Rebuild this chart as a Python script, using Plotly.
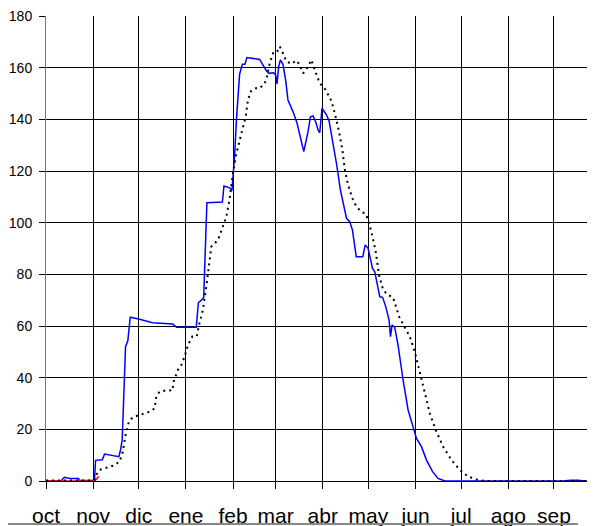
import plotly.graph_objects as go

# Month labels (season Oct -> Sep) and their start day (days since 1 Oct)
month_labels = ["oct", "nov", "dic", "ene", "feb", "mar", "abr", "may", "jun", "jul", "ago", "sep"]
month_start_day = [0, 31, 61, 92, 123, 151, 182, 212, 243, 273, 304, 334]

# Blue series (current season)
blue_day = [0, 10.0, 11.2, 12.2, 15.5, 21.4, 22.0, 30.6, 31.9, 32.6, 37.0, 38.5, 47.9, 49.0, 50.1,
            52.3, 53.8, 55.4, 61.5, 70.1, 83.3, 85.9, 98.8, 100.2, 102.1, 103.7, 105.8, 116.0,
            117.0, 120.8, 122.3, 124.1, 125.2, 126.2, 127.3, 129.1, 130.8, 132.1, 135.0, 140.5,
            142.7, 144.9, 146.6, 149.7, 151.0, 151.9, 153.0, 154.1, 155.8, 157.6, 159.1, 162.4,
            165.1, 167.3, 169.5, 172.3, 173.9, 175.6, 177.4, 178.9, 180.0, 181.5, 184.4, 186.1,
            188.4, 191.0, 193.6, 195.3, 197.6, 199.7, 201.5, 204.0, 208.3, 209.9, 211.8, 214.7,
            216.2, 219.5, 221.3, 223.4, 225.6, 226.5, 227.6, 229.3, 231.5, 234.8, 238.1, 242.0,
            243.6, 246.9, 250.2, 254.2, 257.8, 262.3, 300, 340, 345, 350, 354, 361]
blue_val = [0, 0, 1.0, 1.4, 1.0, 1.0, 0.2, 0.2, 0.5, 8.0, 8.2, 10.4, 9.4, 12, 15.9,
            52, 54.3, 63.4, 62.6, 61.3, 60.8, 59.5, 59.5, 69, 70, 71, 107.7, 108,
            114.2, 113.5, 112.4, 126.8, 139.7, 150.7, 157.4, 161.3, 161.3, 163.9, 163.6, 163.2,
            161, 158.8, 157.8, 158, 157.2, 153.7, 160.4, 163, 161.3, 155.2, 147.5, 143,
            138.5, 133.3, 127.5, 135.2, 141, 141.3, 139, 135.9, 134.8, 144.3, 141.7, 139.5,
            132, 123, 112.6, 108.1, 101.7, 100.4, 97.2, 86.8, 86.8, 91.4, 90.1, 82.3,
            81, 71.3, 71.1, 67.5, 62.3, 55.9, 60.4, 59.5, 52.6, 39.1, 27.5, 19.7,
            16.5, 13.3, 8.1, 3.6, 1.0, 0, 0, 0, 0.3, 0.3, 0, 0]

# Black dotted series (mean)
mean_day = [0, 30.6, 31.9, 33.0, 35.2, 38.5, 44.0, 48.4, 50.5, 52.3, 54.5, 57.1, 61.5, 68.1,
            71.4, 72.5, 74.7, 80.2, 83.1, 83.9, 86.7, 89.0, 91.1, 93.3, 96.2, 99.2, 100.6,
            103.2, 105.4, 107.1, 108.7, 113.1, 116.0, 118.6, 120.8, 122.9, 125.2, 127.3, 129.5,
            131.3, 132.8, 135.0, 137.9, 140.5, 143.8, 145.3, 147.1, 149.3, 151.5, 153.7, 155.8,
            158.1, 161.4, 164.7, 166.8, 169.1, 172.3, 174.5, 177.4, 180.0, 183.9, 187.7, 189.9,
            192.7, 194.9, 196.4, 198.6, 201.5, 204.1, 207.4, 210.3, 212.4, 214.7, 216.8, 219.0,
            221.7, 224.9, 228.2, 232.2, 235.9, 239.2, 242.5, 245.8, 249.1, 252.4, 256.3, 261.1,
            266.7, 272.1, 277.6, 284.2, 288.6, 361]
mean_val = [0.2, 0.2, 0.5, 2.3, 4.3, 4.9, 5.9, 7.5, 11.3, 17.8, 23, 24.7, 25.5, 26.8,
            28.1, 32.6, 34.6, 35.2, 35, 38.4, 43, 44.9, 48.1, 52.6, 55.9, 56, 60.4,
            66.2, 75.2, 84.3, 90.7, 93.3, 98.2, 102.3, 109.4, 119.1, 126.8, 132, 137.1,
            141, 147.5, 151.1, 152, 152, 153.9, 156.5, 161.7, 165.6, 165.6, 168.2, 165.6,
            162.4, 161.5, 162.8, 161, 157.8, 160.4, 163, 158, 154, 151.4, 147, 142.3,
            135.2, 128.1, 120.8, 114.6, 109.4, 106.2, 104.2, 103.4, 100, 94.6, 88.8, 79.7,
            73.9, 72, 71.1, 63.6, 59.7, 55.9, 50, 41.7, 33.3, 26.2, 19.7, 13.3,
            8.1, 4.3, 1.7, 0.4, 0, 0]

# Red series (short early segment)
red_day = [0, 31.0, 32.5, 33.5, 34.7]
red_val = [0, 0, 0.3, 0.9, 1.7]

y_ticks = list(range(0, 181, 20))

fig = go.Figure()
fig.add_trace(go.Scatter(x=blue_day, y=blue_val, mode="lines",
                         line=dict(color="#0000ff", width=1.5), hoverinfo="skip"))
fig.add_trace(go.Scatter(x=red_day, y=red_val, mode="lines",
                         line=dict(color="#ff0000", width=1.5), hoverinfo="skip"))
fig.add_trace(go.Scatter(x=mean_day, y=mean_val, mode="lines",
                         line=dict(color="#000000", width=2, dash="2px,4px"), hoverinfo="skip"))

# The page body has an 8px margin, so the figure is offset by 8px.
W, H = 587, 518
left, top, bottom_px = 38, 8, 473
plot_h = bottom_px - top
plot_w = W - left

fig.update_layout(
    width=W, height=H,
    margin=dict(l=left, r=0, t=top, b=H - bottom_px, pad=0, autoexpand=False),
    paper_bgcolor="white", plot_bgcolor="white",
    showlegend=False,
    font=dict(family="Liberation Sans, Arial, sans-serif", color="black"),
    xaxis=dict(
        range=[0, 361], tickmode="array", tickvals=month_start_day, ticktext=month_labels,
        showgrid=True, gridcolor="#000000", gridwidth=1, automargin=False,
        ticks="outside", ticklen=7, tickcolor="#000000", tickwidth=1,
        tickfont=dict(size=21), ticklabelstandoff=9, ticklabeloverflow="allow",
        showline=True, linecolor="#000000", linewidth=1, zeroline=False,
    ),
    yaxis=dict(
        range=[0, 180], tickmode="array", tickvals=y_ticks,
        showgrid=True, gridcolor="#000000", gridwidth=1, automargin=False,
        ticks="outside", ticklen=6, tickcolor="#000000", tickwidth=1,
        tickfont=dict(size=14), ticklabelstandoff=4, ticklabeloverflow="allow",
        showline=True, linecolor="#777777", linewidth=1, zeroline=False,
    ),
    shapes=[dict(type="line", xref="paper", yref="paper",
                 x0=-left / plot_w, x1=(570 - left) / plot_w,
                 y0=-(516 - bottom_px) / plot_h, y1=-(516 - bottom_px) / plot_h,
                 line=dict(color="#888888", width=2))],
)

fig.write_html("out.html")
